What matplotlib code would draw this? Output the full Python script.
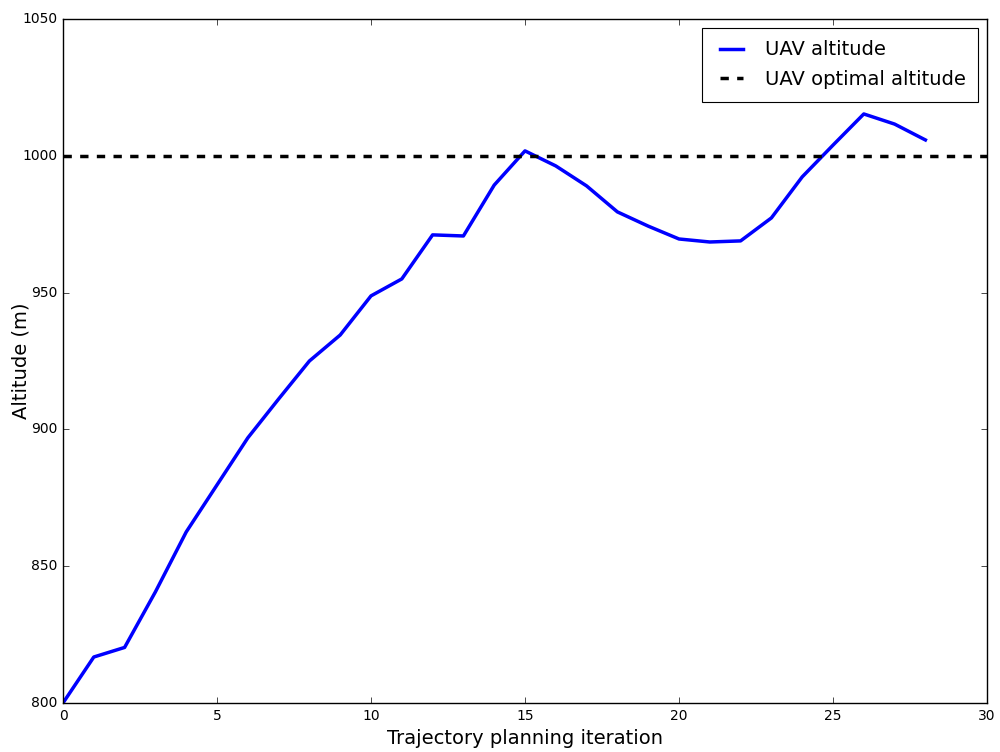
import matplotlib
matplotlib.use("Agg")
import matplotlib.pyplot as plt

plt.style.use("classic")

iterations = list(range(29))
altitude = [800.0, 816.8, 820.3, 840.6, 862.5, 879.7, 896.9, 911.1, 925.0, 934.5,
            948.8, 955.0, 971.1, 970.7, 989.3, 1001.8, 996.3, 989.0, 979.5, 974.3,
            969.6, 968.5, 968.9, 977.3, 992.3, 1003.9, 1015.3, 1011.6, 1005.8]
optimal_altitude = 1000

fig = plt.figure(figsize=(10, 7.52), dpi=100, facecolor="white")
ax = fig.add_axes([0.063, 0.0652, 0.924, 0.9095])
ax.plot(iterations, altitude, color="blue", lw=2.5, label="UAV altitude")
ax.axhline(optimal_altitude, color="black", lw=2.5, ls="--", label="UAV optimal altitude")
ax.set_xlim(0, 30)
ax.set_ylim(800, 1050)
ax.set_xlabel("Trajectory planning iteration", fontsize=14)
ax.set_ylabel("Altitude (m)", fontsize=14)
ax.yaxis.set_label_coords(-0.035, 0.5)
ax.tick_params(labelsize=10)
leg = ax.legend(loc="upper right", fontsize=14, fancybox=False, shadow=False,
                handlelength=1.8, handletextpad=0.8, labelspacing=0.55,
                borderpad=0.65, borderaxespad=0.45)
leg.get_frame().set_linewidth(0.8)
fig.savefig("out.png", dpi=100, facecolor="white")
